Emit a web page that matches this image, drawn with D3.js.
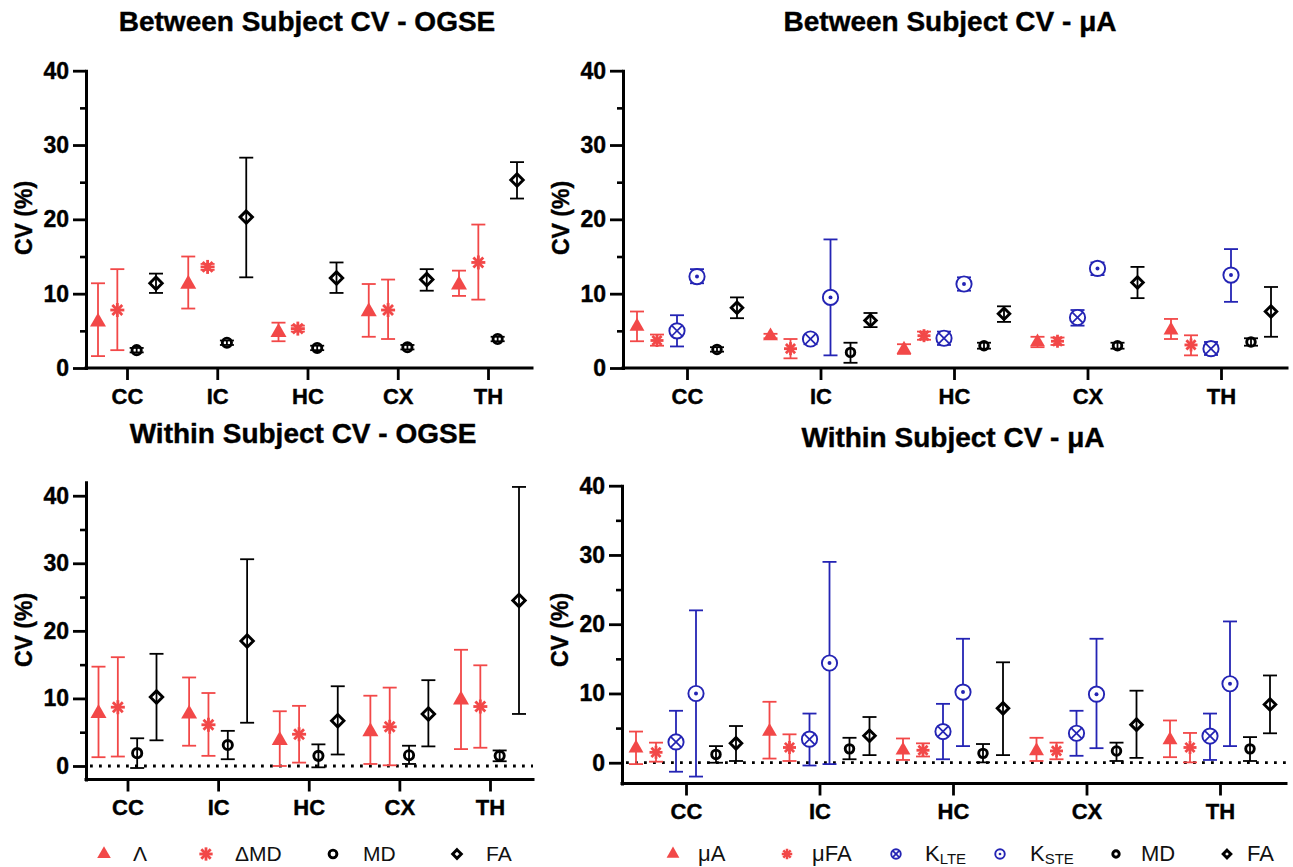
<!DOCTYPE html>
<html><head><meta charset="utf-8">
<script src="https://cdn.jsdelivr.net/npm/d3@7"></script>
<style>
body{margin:0;background:#fff;}
svg{display:block;font-family:"Liberation Sans",Arial,Helvetica,sans-serif;}
</style></head><body>
<svg id="chart" width="1293" height="867"></svg>
<script>
// ---------- data ----------
const categories = ["CC","IC","HC","CX","TH"];
const yTickValues = [0,10,20,30,40];
const yMinorTickValues = [5,15,25,35];
const ogseSeries = ["Λ","ΔMD","MD","FA"];
const uaSeries = ["μA","μFA","KLTE","KSTE","MD","FA"];
const ogseLegendLabels = [["Λ",""],["ΔMD",""],["MD",""],["FA",""]];
const uaLegendLabels = [["μA",""],["μFA",""],["K","LTE"],["K","STE"],["MD",""],["FA",""]];

// each entry: [mean, lower, upper] per category (CC, IC, HC, CX, TH)
const bOgseLambda = [[6.2,1.6,11.4],[11.3,8.0,15.0],[4.8,3.6,6.1],[7.6,4.2,11.3],[11.2,9.7,13.1]];
const bOgseDMD    = [[7.8,2.4,13.3],[13.6,13.2,14.0],[5.3,4.9,5.7],[7.8,3.9,11.9],[14.2,9.2,19.3]];
const bOgseMD     = [[2.4,2.1,2.7],[3.4,3.1,3.7],[2.7,2.4,3.0],[2.8,2.5,3.1],[3.9,3.6,4.2]];
const bOgseFA     = [[11.4,10.1,12.7],[20.3,12.2,28.3],[12.1,10.1,14.2],[11.9,10.4,13.3],[25.3,22.8,27.7]];

const bUaMuA  = [[5.6,3.6,7.6],[4.3,4.0,4.6],[2.5,1.9,3.2],[3.5,2.8,4.2],[5.1,3.9,6.6]];
const bUaMuFA = [[3.7,3.0,4.5],[2.6,1.3,3.9],[4.35,3.8,4.9],[3.6,3.1,4.1],[3.1,1.7,4.4]];
const bUaKLTE = [[5.0,2.9,7.1],[3.9,3.2,4.4],[4.0,3.1,4.9],[6.8,5.7,7.8],[2.6,1.75,3.5]];
const bUaKSTE = [[12.3,11.4,13.3],[9.5,1.7,17.3],[11.3,10.4,12.2],[13.4,12.5,14.2],[12.5,8.9,16.0]];
const bUaMD   = [[2.5,2.2,2.8],[2.1,0.7,3.4],[3.0,2.6,3.4],[3.0,2.6,3.4],[3.5,3.0,4.0]];
const bUaFA   = [[8.1,6.7,9.5],[6.4,5.5,7.4],[7.3,6.2,8.3],[11.5,9.4,13.6],[7.6,4.2,10.9]];

const wOgseLambda = [[7.8,1.3,14.7],[7.7,3.0,13.1],[3.8,0.0,8.1],[5.1,0.3,10.4],[9.8,2.5,17.2]];
const wOgseDMD    = [[8.7,1.4,16.1],[6.1,1.5,10.8],[4.7,0.5,8.9],[5.8,0.1,11.6],[8.8,2.7,14.9]];
const wOgseMD     = [[1.9,-0.3,4.1],[3.1,1.0,5.2],[1.5,-0.2,3.2],[1.6,0.3,3.0],[1.5,0.7,2.3]];
const wOgseFA     = [[10.2,3.8,16.6],[18.5,6.4,30.6],[6.7,1.7,11.8],[7.7,2.9,12.7],[24.5,7.7,41.3]];

const wUaMuA  = [[2.1,-0.2,4.5],[4.5,0.6,8.8],[1.8,0.4,3.5],[1.7,0.25,3.6],[3.3,0.8,6.1]];
const wUaMuFA = [[1.5,0.15,2.9],[2.2,0.25,4.1],[1.8,0.9,2.8],[1.7,0.5,2.9],[2.2,0.05,4.3]];
const wUaKLTE = [[3.0,-1.3,7.5],[3.4,-0.4,7.1],[4.5,0.5,8.5],[4.25,1.0,7.5],[3.85,0.4,7.1]];
const wUaKSTE = [[10.0,-2.0,22.0],[14.4,-0.2,29.0],[10.2,2.4,17.9],[9.9,2.1,17.9],[11.4,2.4,20.4]];
const wUaMD   = [[1.2,0.0,2.4],[2.0,0.5,3.6],[1.35,0.05,2.7],[1.7,0.25,2.9],[2.0,0.25,3.7]];
const wUaFA   = [[2.8,0.25,5.3],[3.9,1.1,6.6],[7.85,1.1,14.5],[5.5,0.7,10.4],[8.4,4.25,12.6]];

// ---------- styles ----------
const RED = "#f24848", BLUE = "#2424b4", BLACK = "#000";
const seriesStyle = {
  "Λ":   {shape:"triangle", color:RED},
  "ΔMD": {shape:"asterisk", color:RED},
  "μA":  {shape:"triangle", color:RED},
  "μFA": {shape:"asterisk", color:RED},
  "KLTE":{shape:"otimes",   color:BLUE},
  "KSTE":{shape:"odot",     color:BLUE},
  "MD":  {shape:"circle",   color:BLACK},
  "FA":  {shape:"diamond",  color:BLACK}
};

const svg = d3.select("#chart");
const FONT = "Liberation Sans, Arial, sans-serif";

function drawMarker(g, shape, color, s) {
  if (shape === "triangle") {
    const side = 16 * s;
    g.append("path").attr("d", d3.symbol(d3.symbolTriangle, Math.sqrt(3) / 4 * side * side)())
      .attr("fill", color);
  } else if (shape === "asterisk") {
    const r = 7 * s;
    for (let k = 0; k < 4; k++) {
      const a = k * Math.PI / 4;
      g.append("line")
        .attr("x1", -r * Math.cos(a)).attr("y1", -r * Math.sin(a))
        .attr("x2", r * Math.cos(a)).attr("y2", r * Math.sin(a))
        .attr("stroke", color).attr("stroke-width", 2.8 * Math.min(1, s + 0.15));
    }
  } else if (shape === "circle") {
    g.append("circle").attr("r", 4.6 * s).attr("fill", "none")
      .attr("stroke", color).attr("stroke-width", 2.9);
  } else if (shape === "diamond") {
    const h = 6.2 * s;
    g.append("path").attr("d", `M0,${-h}L${h},0L0,${h}L${-h},0Z`)
      .attr("fill", "none").attr("stroke", color).attr("stroke-width", 2.9)
      .attr("stroke-linejoin", "miter");
  } else if (shape === "otimes" || shape === "odot") {
    const r = 8.2 * s;
    g.append("circle").attr("r", r).attr("fill", "#fff")
      .attr("stroke", color).attr("stroke-width", 1.9);
    if (shape === "otimes") {
      const q = r * 0.707;
      g.append("line").attr("x1", -q).attr("y1", -q).attr("x2", q).attr("y2", q)
        .attr("stroke", color).attr("stroke-width", 1.7);
      g.append("line").attr("x1", -q).attr("y1", q).attr("x2", q).attr("y2", -q)
        .attr("stroke", color).attr("stroke-width", 1.7);
    } else {
      g.append("circle").attr("r", 1.8 * s + 0.3).attr("fill", color);
    }
  }
}

const panels = [
  {title:"Between Subject CV - OGSE", tx:307, ty:31, xL:86, xR:532, yDom:[0,40], yRng:[368,70.7],
   cat:[127,488], off:[-29,29], names:ogseSeries, data:[bOgseLambda,bOgseDMD,bOgseMD,bOgseFA],
   zero:false, lx:24, ly:218, ms:1.0},
  {title:"Between Subject CV - μA", tx:950, ty:31, xL:623, xR:1287, yDom:[0,40], yRng:[368,70.7],
   cat:[687,1221], off:[-50,50], names:uaSeries, data:[bUaMuA,bUaMuFA,bUaKLTE,bUaKSTE,bUaMD,bUaFA],
   zero:false, lx:561, ly:218, ms:0.93},
  {title:"Within Subject CV - OGSE", tx:303, ty:443, xL:86, xR:533, yDom:[-2,42], yRng:[779.5,482.2],
   cat:[127.5,490], off:[-29,29], names:ogseSeries, data:[wOgseLambda,wOgseDMD,wOgseMD,wOgseFA],
   zero:true, lx:24, ly:630, ms:1.0},
  {title:"Within Subject CV - μA", tx:953, ty:447, xL:622, xR:1286, yDom:[-3,40], yRng:[783.5,485.7],
   cat:[686,1220], off:[-50,50], names:uaSeries, data:[wUaMuA,wUaMuFA,wUaKLTE,wUaKSTE,wUaMD,wUaFA],
   zero:true, lx:560, ly:630, ms:0.93}
];

panels.forEach(p => {
  const g = svg.append("g");
  const y = d3.scaleLinear().domain(p.yDom).range(p.yRng);
  const x = d3.scalePoint().domain(categories).range(p.cat);
  const off = d3.scalePoint().domain(p.names).range(p.off);
  const y0 = p.yRng[0];

  // title
  g.append("text").attr("x", p.tx).attr("y", p.ty).attr("text-anchor", "middle")
    .attr("font-size", 28).attr("font-weight", "bold")
    .attr("stroke", "#000").attr("stroke-width", 0.4).text(p.title);

  // y axis label
  g.append("text").attr("transform", `translate(${p.lx},${p.ly}) rotate(-90)`)
    .attr("text-anchor", "middle").attr("dominant-baseline", "central")
    .attr("font-size", 23).attr("font-weight", "bold")
    .attr("stroke", "#000").attr("stroke-width", 0.4).text("CV (%)");

  // zero dotted line
  if (p.zero) {
    g.append("line").attr("x1", p.xL + 4).attr("x2", p.xR).attr("y1", y(0)).attr("y2", y(0))
      .attr("stroke", "#000").attr("stroke-width", 2.8).attr("stroke-dasharray", "2.8,6.2");
  }

  // y axis minor
  g.append("g").attr("transform", `translate(${p.xL},0)`)
    .call(d3.axisLeft(y).tickValues(yMinorTickValues).tickSize(6).tickSizeOuter(0).tickFormat(""))
    .call(a => a.select(".domain").remove())
    .call(a => a.selectAll("line").attr("stroke-width", 2.6));
  // y axis major
  g.append("g").attr("transform", `translate(${p.xL},0)`)
    .call(d3.axisLeft(y).tickValues(yTickValues).tickSize(13).tickSizeOuter(0).tickPadding(4))
    .call(a => a.select(".domain").attr("stroke-width", 3).attr("stroke-linecap", "square"))
    .call(a => a.selectAll("line").attr("stroke-width", 2.8))
    .call(a => a.selectAll("text").attr("font-size", 23).attr("font-weight", "bold")
      .attr("font-family", FONT).attr("fill", "#000").attr("stroke", "#000").attr("stroke-width", 0.4));

  // x axis
  g.append("line").attr("x1", p.xL).attr("x2", p.xR).attr("y1", y0).attr("y2", y0)
    .attr("stroke", "#000").attr("stroke-width", 3).attr("stroke-linecap", "square");
  g.append("g").attr("transform", `translate(0,${y0})`)
    .call(d3.axisBottom(x).tickSize(12).tickSizeOuter(0).tickPadding(8))
    .call(a => a.select(".domain").remove())
    .call(a => a.selectAll("line").attr("stroke-width", 2.8))
    .call(a => a.selectAll("text").attr("font-size", 22).attr("font-weight", "bold")
      .attr("font-family", FONT).attr("fill", "#000").attr("stroke", "#000").attr("stroke-width", 0.4));

  // series
  p.names.forEach((name, si) => {
    const st = seriesStyle[name];
    const sg = g.append("g");
    p.data[si].forEach((d, ci) => {
      const cx = x(categories[ci]) + off(name);
      const [m, lo, hi] = d;
      // error bar
      sg.append("line").attr("x1", cx).attr("x2", cx).attr("y1", y(lo)).attr("y2", y(hi))
        .attr("stroke", st.color).attr("stroke-width", 1.8);
      [lo, hi].forEach(v => sg.append("line").attr("x1", cx - 7).attr("x2", cx + 7)
        .attr("y1", y(v)).attr("y2", y(v)).attr("stroke", st.color).attr("stroke-width", 1.8));
      const mg = sg.append("g").attr("transform", `translate(${cx},${y(m)})`);
      drawMarker(mg, st.shape, st.color, p.ms);
    });
  });
});

// ---------- legends ----------
function legend(names, labels, markerX, textX, scale, fs) {
  const lg = svg.append("g");
  names.forEach((name, i) => {
    const st = seriesStyle[name];
    const mg = lg.append("g").attr("transform", `translate(${markerX[i]},854)`);
    drawMarker(mg, st.shape, st.color, scale[i]);
    const t = lg.append("text").attr("x", textX[i]).attr("y", 861).attr("font-size", fs).attr("fill", "#111");
    t.append("tspan").text(labels[i][0]);
    if (labels[i][1]) t.append("tspan").attr("font-size", 15).attr("dy", 3).text(labels[i][1]);
  });
}
legend(ogseSeries, ogseLegendLabels, [104,206,333,457], [133,235,363,486], [0.85,0.95,0.85,0.7], 21);
legend(uaSeries, uaLegendLabels, [673,787,896,1000,1116,1227], [698,812,925,1030,1141,1247], [0.8,0.75,0.58,0.58,0.7,0.62], 22);
</script>
</body></html>
